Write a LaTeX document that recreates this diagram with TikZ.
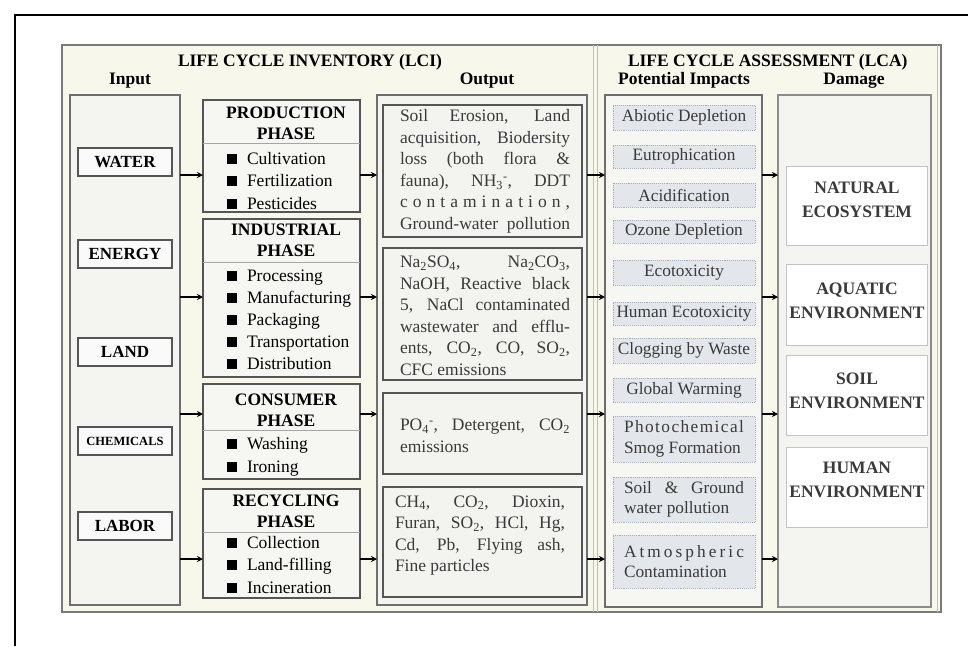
\documentclass[tikz,border=0pt]{standalone}
\usepackage{fontspec}
\setmainfont{Liberation Serif}
\usetikzlibrary{arrows.meta}
\definecolor{beige}{HTML}{F8F7EC}
\definecolor{frameline}{HTML}{7A7A7A}
\definecolor{pgray}{HTML}{6E6E6E}
\definecolor{panelfill}{HTML}{F4F4F1}
\definecolor{dgray}{HTML}{555555}
\definecolor{phasefill}{HTML}{F6F6F3}
\definecolor{outfill}{HTML}{F3F3F0}
\definecolor{impfill}{HTML}{E3E7EC}
\definecolor{impline}{HTML}{A8AEB8}
\definecolor{damline}{HTML}{C4C4C4}
\definecolor{sepgray}{HTML}{C0C0C0}
\definecolor{txtgray}{HTML}{3A3A3A}
\newcommand{\sbsp}[2]{\textsubscript{#1}\textsuperscript{#2}}
\newcommand{\jl}[1]{\makebox[170pt][s]{#1}}
\newcommand{\ji}[1]{\makebox[120pt][s]{#1}}
\newcommand{\bul}{\rule[0.3pt]{10pt}{10pt}\hspace{10pt}}
\newcommand{\rbox}[7]{\node[#1,anchor=north west,minimum width={(#5-#3)*1pt},minimum height={(#6-#4)*1pt}] (#2) at (#3,#4) {#7};}
\begin{document}
\begin{tikzpicture}[x=1pt,y=-1pt,
  every node/.style={inner sep=0pt,outer sep=0pt},
  panel/.style={draw=pgray,line width=1.8pt,fill=panelfill},
  inbox/.style={draw=dgray,line width=1.8pt,fill=white!96!gray,font=\fontsize{17}{20}\selectfont\bfseries},
  phasebox/.style={draw=dgray,line width=1.8pt,fill=phasefill},
  outbox/.style={draw=dgray,line width=1.6pt,fill=outfill},
  impbox/.style={draw=impline,line width=0.9pt,densely dotted,fill=impfill,text=txtgray,align=left,font=\fontsize{17.3}{20.5}\selectfont},
  dambox/.style={draw=damline,line width=1pt,fill=white},
  damtxt/.style={text=txtgray,align=center,font=\fontsize{17.5}{24}\selectfont\bfseries},
  hdr/.style={align=center,font=\fontsize{17.5}{21}\selectfont\bfseries},
  item/.style={anchor=base west,font=\fontsize{17.5}{21}\selectfont},
  outtxt/.style={anchor=west,align=left,text=txtgray,font=\fontsize{17.5}{21.5}\selectfont},
  ttl/.style={anchor=base west,font=\fontsize{17.5}{21}\selectfont\bfseries},
  sub/.style={anchor=base,font=\fontsize{17.5}{21}\selectfont\bfseries},
  sepline/.style={draw=gray!70,line width=1pt},
  arr/.style={-{Stealth[length=6pt,width=6pt]},line width=1.5pt,black}]
\useasboundingbox (0,0) rectangle (968,646);
\fill[white] (0,0) rectangle (968,646);
% outer black frame
\draw[line width=2.6pt,black] (15,646) -- (15,15) -- (968,15);
% beige frame
\rbox{draw=frameline,line width=1.6pt,fill=beige}{bg}{62}{45}{941}{612}{}
\draw[sepgray,line width=1pt] (593,45) -- (593,612);
\draw[sepgray,line width=1pt] (597,45) -- (597,612);
\draw[sepgray,line width=1pt] (937,45) -- (937,612);
% titles
\node[ttl] (tlci) at (178,66) {LIFE CYCLE INVENTORY (LCI)};
\node[ttl] (tlca) at (628,66) {LIFE CYCLE ASSESSMENT (LCA)};
\node[sub] (tin) at (130,84) {Input};
\node[sub] (tout) at (487,84) {Output};
\node[sub] (timp) at (684,84) {Potential Impacts};
\node[sub] (tdam) at (854,84) {Damage};
% panels
\rbox{panel}{inp}{70}{95}{180}{605}{}
\rbox{panel,fill=outfill}{outp}{377}{95}{587}{605}{}
\rbox{panel,fill=phasefill}{imp}{605}{95}{762}{607}{}
\rbox{panel,draw=gray!90}{dam}{778}{95}{931}{607}{}
% input boxes
\rbox{inbox}{water}{78}{148}{172}{176}{WATER}
\rbox{inbox}{energy}{78}{240}{172}{268}{ENERGY}
\rbox{inbox}{land}{78}{338}{172}{366}{LAND}
\rbox{inbox,font=\fontsize{12.5}{15}\selectfont\bfseries}{chem}{78}{427}{172}{455}{CHEMICALS}
\rbox{inbox}{labor}{78}{512}{172}{540}{LABOR}
% phase boxes
\rbox{phasebox}{prod}{203}{100}{360}{212}{}
\rbox{phasebox}{ind}{203}{219}{360}{377}{}
\rbox{phasebox}{cons}{203}{384}{360}{479}{}
\rbox{phasebox}{rec}{203}{489}{360}{598}{}
\draw[sepline] (prod.west |- 0,143) -- (prod.east |- 0,143);
\draw[sepline] (ind.west |- 0,262) -- (ind.east |- 0,262);
\draw[sepline] (cons.west |- 0,430) -- (cons.east |- 0,430);
\draw[sepline] (rec.west |- 0,532) -- (rec.east |- 0,532);
\node[hdr] (prodh) at (286,123) {PRODUCTION\\PHASE};
\node[hdr] (indh) at (286,240) {INDUSTRIAL\\PHASE};
\node[hdr] (consh) at (286,410) {CONSUMER\\PHASE};
\node[hdr] (rech) at (286,511) {RECYCLING\\PHASE};
\foreach \t [count=\i] in {Cultivation,Fertilization,Pesticides}
  \node[item] (prodi\i) at (227,{164+22.5*(\i-1)}) {\bul\t};
\foreach \t [count=\i] in {Processing,Manufacturing,Packaging,Transportation,Distribution}
  \node[item] (indi\i) at (227,{281+22*(\i-1)}) {\bul\t};
\foreach \t [count=\i] in {Washing,Ironing}
  \node[item] (consi\i) at (227,{449+23*(\i-1)}) {\bul\t};
\foreach \t [count=\i] in {Collection,Land-filling,Incineration}
  \node[item] (reci\i) at (227,{548+22.5*(\i-1)}) {\bul\t};
% output boxes
\rbox{outbox}{o1}{383}{105}{582}{237}{}
\rbox{outbox}{o2}{383}{248}{582}{380}{}
\rbox{outbox}{o3}{383}{393}{582}{474}{}
\rbox{outbox}{o4}{383}{487}{582}{597}{}
\node[outtxt] (o1t) at (400,171.5) {\jl{Soil Erosion, Land}\\\jl{acquisition, Biodersity}\\\jl{loss (both flora \&}\\\jl{fauna), NH\sbsp{3}{-}, DDT}\\\jl{c o n t a m i n a t i o n ,}\\\jl{Ground-water pollution}};
\node[outtxt] (o2t) at (400,316) {\jl{Na\textsubscript{2}SO\textsubscript{4}, Na\textsubscript{2}CO\textsubscript{3},}\\\jl{NaOH, Reactive black}\\\jl{5, NaCl contaminated}\\\jl{wastewater and efflu-}\\\jl{ents, CO\textsubscript{2}, CO, SO\textsubscript{2},}\\CFC emissions};
\node[outtxt] (o3t) at (400,436) {\jl{PO\sbsp{4}{-}, Detergent, CO\textsubscript{2}}\\emissions};
\node[outtxt] (o4t) at (395,535.5) {\jl{CH\textsubscript{4}, CO\textsubscript{2}, Dioxin,}\\\jl{Furan, SO\textsubscript{2}, HCl, Hg,}\\\jl{Cd, Pb, Flying ash,}\\Fine particles};
% impact boxes
\rbox{impbox}{i1}{613}{105}{755}{130}{Abiotic Depletion}
\rbox{impbox}{i2}{613}{145}{755}{168}{Eutrophication}
\rbox{impbox}{i3}{613}{183}{755}{207}{Acidification}
\rbox{impbox}{i4}{613}{220}{755}{243}{Ozone Depletion}
\rbox{impbox}{i5}{613}{260}{755}{285}{Ecotoxicity}
\rbox{impbox}{i6}{613}{302}{755}{325}{Human Ecotoxicity}
\rbox{impbox}{i7}{613}{338}{755}{363}{Clogging by Waste}
\rbox{impbox}{i8}{613}{378}{755}{402}{Global Warming}
\rbox{impbox}{i9}{613}{416}{755}{462}{\ji{P\hfill h\hfill o\hfill t\hfill o\hfill c\hfill h\hfill e\hfill m\hfill i\hfill c\hfill a\hfill l}\\Smog Formation}
\rbox{impbox}{i10}{613}{477}{755}{522}{\ji{Soil \& Ground}\\water pollution}
\rbox{impbox}{i11}{613}{535}{755}{588}{\ji{A\hfill t\hfill m\hfill o\hfill s\hfill p\hfill h\hfill e\hfill r\hfill i\hfill c}\\Contamination}
% damage boxes
\rbox{dambox}{d1}{786}{166}{927}{245}{}
\rbox{dambox}{d2}{786}{264}{927}{345}{}
\rbox{dambox}{d3}{786}{355}{927}{435}{}
\rbox{dambox}{d4}{786}{447}{927}{527}{}
\node[damtxt] (d1t) at (857,200) {NATURAL\\ECOSYSTEM};
\node[damtxt] (d2t) at (857,301) {AQUATIC\\ENVIRONMENT};
\node[damtxt] (d3t) at (857,391) {SOIL\\ENVIRONMENT};
\node[damtxt] (d4t) at (857,480) {HUMAN\\ENVIRONMENT};
% arrows
\coordinate (r1) at (0,175);
\coordinate (r2) at (0,297);
\coordinate (r3) at (0,414);
\coordinate (r4) at (0,559);
\foreach \r/\p in {r1/prod,r2/ind,r3/cons,r4/rec} {
  \draw[arr] (inp.east |- \r) -- (\p.west |- \r);
  \draw[arr] (\p.east |- \r) -- (outp.west |- \r);
  \draw[arr] (outp.east |- \r) -- (imp.west |- \r);
  \draw[arr] (imp.east |- \r) -- (dam.west |- \r);
}
\end{tikzpicture}
\end{document}
